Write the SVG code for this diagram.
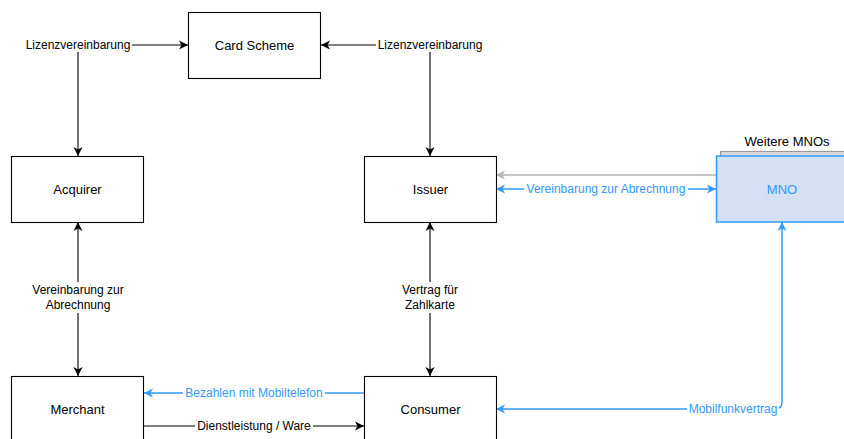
<svg xmlns="http://www.w3.org/2000/svg" width="844" height="439" viewBox="0 0 844 439">
  <style>
    .box { fill: #ffffff; stroke: #000000; stroke-width: 1.1; }
    .mno { fill: #d4e1f5; stroke: #3399ff; stroke-width: 1.5; }
    .stack { fill: #d9d9d9; stroke: #9a9a9a; stroke-width: 1.1; }
    .node { font-family: "Liberation Sans", Arial, sans-serif; font-size: 13px; text-anchor: middle; fill: #000000; }
    .lbl { font-family: "Liberation Sans", Arial, sans-serif; font-size: 12px; text-anchor: middle; fill: #000000; }
    .blue { fill: #3399ff; }
    .line { fill: none; stroke: #000000; stroke-width: 1.1; }
    .bline { fill: none; stroke: #3399ff; stroke-width: 1.5; }
    .gline { fill: none; stroke: #b3b3b3; stroke-width: 1.5; }
    .bg { fill: #ffffff; }
  </style>
  <defs>
    <marker id="arrow" markerUnits="userSpaceOnUse" viewBox="-10 -5 11 10" refX="0" refY="0" markerWidth="11" markerHeight="10" orient="auto-start-reverse">
      <path d="M0,0 L-9,-4.5 L-6.5,0 L-9,4.5 Z" fill="#000000"/>
    </marker>
    <marker id="arrowBlue" markerUnits="userSpaceOnUse" viewBox="-10 -5 11 10" refX="0" refY="0" markerWidth="11" markerHeight="10" orient="auto-start-reverse">
      <path d="M0,0 L-9,-4.5 L-6.5,0 L-9,4.5 Z" fill="#3399ff"/>
    </marker>
    <marker id="arrowGrey" markerUnits="userSpaceOnUse" viewBox="-10 -5 11 10" refX="0" refY="0" markerWidth="11" markerHeight="10" orient="auto-start-reverse">
      <path d="M0,0 L-9,-4.5 L-6.5,0 L-9,4.5 Z" fill="#b3b3b3"/>
    </marker>
  </defs>

  <rect width="844" height="439" fill="#ffffff"/>

  <!-- connectors -->
  <g id="connectors">
    <!-- licence agreements with the card scheme -->
    <path class="line" d="M78,156 L78,45 L188,45" marker-start="url(#arrow)" marker-end="url(#arrow)"/>
    <path class="line" d="M430,156 L430,45 L321,45" marker-start="url(#arrow)" marker-end="url(#arrow)"/>
    <!-- acquirer / merchant, issuer / consumer -->
    <path class="line" d="M78,222 L78,376" marker-start="url(#arrow)" marker-end="url(#arrow)"/>
    <path class="line" d="M430,222 L430,376" marker-start="url(#arrow)" marker-end="url(#arrow)"/>
    <!-- MNO to issuer -->
    <path class="gline" d="M716,175 L496,175" marker-end="url(#arrowGrey)"/>
    <path class="bline" d="M496,189 L716,189" marker-start="url(#arrowBlue)" marker-end="url(#arrowBlue)"/>
    <!-- consumer / merchant -->
    <path class="bline" d="M364,393 L144,393" marker-end="url(#arrowBlue)"/>
    <path class="line" d="M144,426 L364,426" marker-end="url(#arrow)"/>
    <!-- mobile contract -->
    <path class="bline" d="M782,222 L782,402 Q782,409 775,409 L496,409" marker-start="url(#arrowBlue)" marker-end="url(#arrowBlue)"/>

    <!-- edge labels -->
    <rect class="bg" x="24" y="38" width="108" height="14"/>
    <text class="lbl" x="78" y="49">Lizenzvereinbarung</text>
    <rect class="bg" x="376" y="38" width="108" height="14"/>
    <text class="lbl" x="430" y="49">Lizenzvereinbarung</text>

    <rect class="bg" x="26" y="282" width="104" height="31"/>
    <text class="lbl" x="78" y="294">Vereinbarung zur</text>
    <text class="lbl" x="78" y="309">Abrechnung</text>

    <rect class="bg" x="398" y="282" width="64" height="31"/>
    <text class="lbl" x="430" y="294">Vertrag für</text>
    <text class="lbl" x="430" y="309">Zahlkarte</text>

    <rect class="bg" x="524" y="182" width="164" height="14"/>
    <text class="lbl blue" x="606" y="193">Vereinbarung zur Abrechnung</text>

    <rect class="bg" x="183" y="386" width="142" height="14"/>
    <text class="lbl blue" x="254" y="397">Bezahlen mit Mobiltelefon</text>

    <rect class="bg" x="195" y="419" width="118" height="14"/>
    <text class="lbl" x="254" y="430">Dienstleistung / Ware</text>

    <rect class="bg" x="687" y="402" width="92" height="14"/>
    <text class="lbl blue" x="733" y="413">Mobilfunkvertrag</text>
  </g>

  <!-- nodes -->
  <g id="card-scheme">
    <rect class="box" x="188.5" y="12.5" width="132" height="66"/>
    <text class="node" x="254.5" y="50">Card Scheme</text>
  </g>
  <g id="acquirer">
    <rect class="box" x="11.5" y="156.5" width="132" height="66"/>
    <text class="node" x="77.5" y="194">Acquirer</text>
  </g>
  <g id="issuer">
    <rect class="box" x="364.5" y="156.5" width="132" height="66"/>
    <text class="node" x="430.5" y="194">Issuer</text>
  </g>
  <g id="merchant">
    <rect class="box" x="11.5" y="376.5" width="132" height="66"/>
    <text class="node" x="77.5" y="414">Merchant</text>
  </g>
  <g id="consumer">
    <rect class="box" x="364.5" y="376.5" width="132" height="66"/>
    <text class="node" x="430.5" y="414">Consumer</text>
  </g>
  <g id="mno">
    <text class="node" x="787" y="146">Weitere MNOs</text>
    <rect class="stack" x="720.5" y="151.5" width="132" height="66"/>
    <rect class="mno" x="716.5" y="156" width="132" height="66"/>
    <text class="node blue" x="782" y="194">MNO</text>
  </g>
</svg>
